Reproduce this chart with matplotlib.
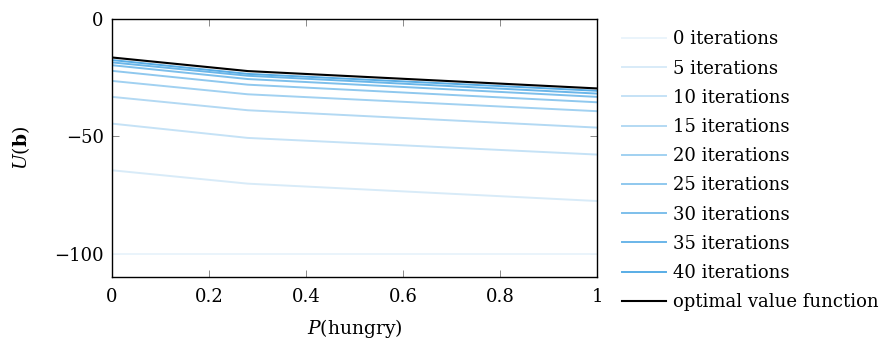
import matplotlib.pyplot as plt
import numpy as np
from matplotlib.colors import to_rgb

plt.rcParams['font.family'] = ['DejaVu Serif']
plt.rcParams['mathtext.fontset'] = 'dejavuserif'

# belief points (x) where the value functions are sampled
p_hungry = [0.0, 0.28, 1.0]

iterations = [0, 5, 10, 15, 20, 25, 30, 35, 40]
# U(b) at p_hungry for each iteration count
values = [
    [-100.0, -100.0, -100.0],
    [-64.5, -70.2, -77.6],
    [-44.6, -50.7, -57.8],
    [-33.2, -38.9, -46.3],
    [-26.4, -32.1, -39.3],
    [-22.1, -28.0, -35.5],
    [-19.7, -25.6, -33.2],
    [-18.5, -24.2, -31.8],
    [-17.5, -23.4, -30.6],
]
optimal = [-16.4, -22.2, -29.6]

fig = plt.figure(figsize=(8.9, 3.43), dpi=100)
ax = fig.add_axes([0.1258, 0.1924, 0.545, 0.7522])

light = np.array(to_rgb('#eaf4fb'))
dark = np.array(to_rgb('#58ade6'))
for i, (it, v) in enumerate(zip(iterations, values)):
    t = i / (len(iterations) - 1)
    c = light + (dark - light) * t
    ax.plot(p_hungry, v, color=c, lw=1.4, label=f'{it} iterations')
ax.plot(p_hungry, optimal, color='black', lw=1.5, label='optimal value function')

ax.set_xlim(0, 1)
ax.set_ylim(-110, 0)
ax.set_xticks([0, 0.2, 0.4, 0.6, 0.8, 1])
ax.set_xticklabels(['0', '0.2', '0.4', '0.6', '0.8', '1'])
ax.set_yticks([0, -50, -100])
ax.set_yticklabels(['0', '\u221250', '\u2212100'])
ax.tick_params(direction='in', top=True, right=True, length=5, width=0.6,
               color='#777777', labelsize=13, pad=6)
ax.tick_params(axis='x', pad=8)
for s in ax.spines.values():
    s.set_linewidth(1.0)

ax.set_xlabel(r'$P(\mathrm{hungry})$', fontsize=13.5, labelpad=8)
ax.set_ylabel(r'$U(\mathbf{b})$', fontsize=13.5, labelpad=16)

ax.legend(loc='center left', bbox_to_anchor=(1.0515, 0.412), frameon=False,
          fontsize=13, handlelength=2.45, handletextpad=0.4, labelspacing=0.62,
          borderaxespad=0, borderpad=0)

fig.savefig('out.png', dpi=100)
